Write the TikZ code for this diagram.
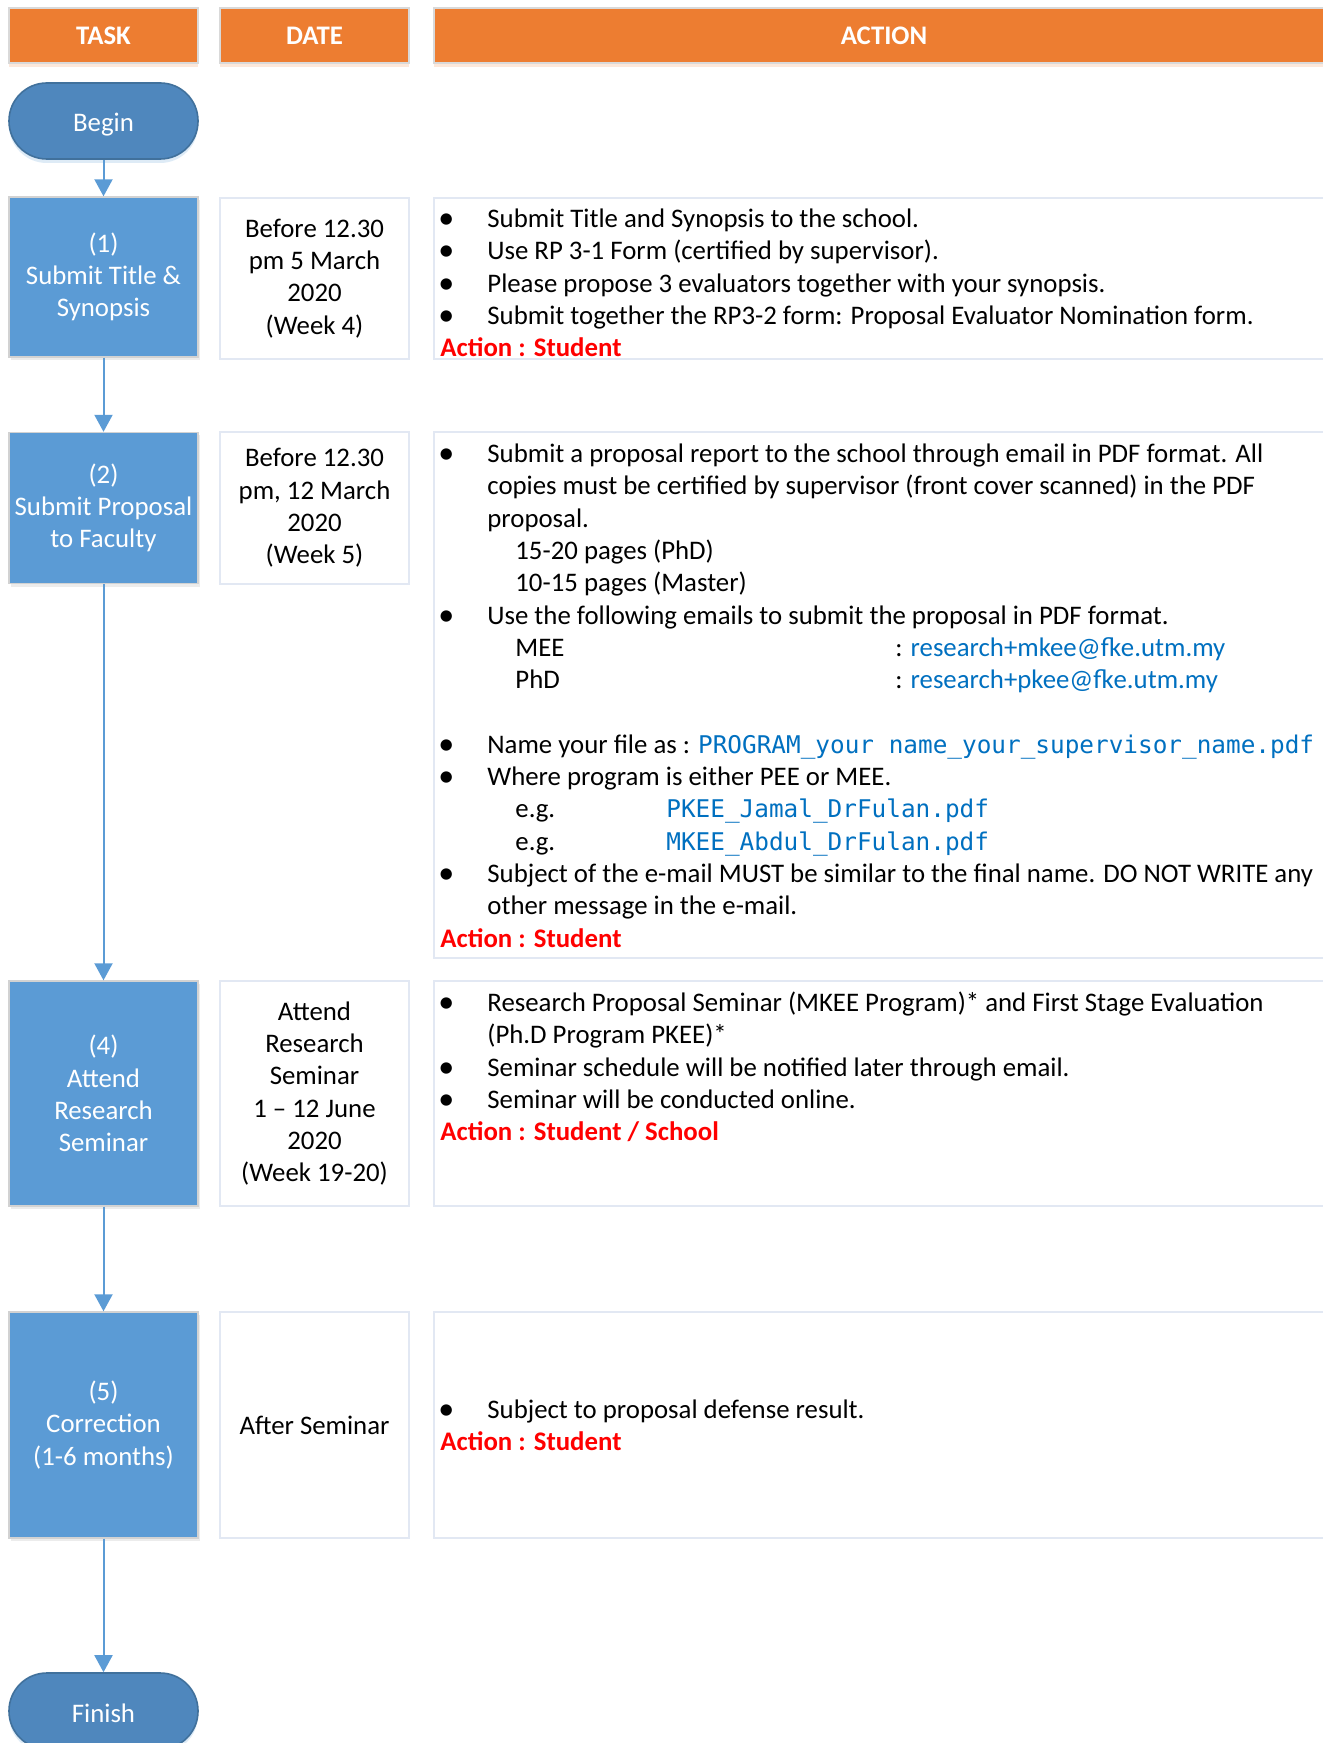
\documentclass[tikz,border=0pt]{standalone}
\usepackage{fontspec}
\setmainfont{Carlito}
\newfontfamily\codefont[Scale=0.909]{DejaVu Sans Mono}
\usepackage{xcolor}
\usepackage{tikz}
\usetikzlibrary{arrows.meta, positioning, shadows}

\definecolor{hdrorange}{HTML}{ED7D31}
\definecolor{taskblue}{HTML}{5B9BD5}
\definecolor{termblue}{HTML}{4F87BD}
\definecolor{termedge}{HTML}{41719C}
\definecolor{celledge}{HTML}{E2E8F3}
\definecolor{linkblue}{HTML}{0070C0}

\newcommand\bodysize{\fontsize{13.4pt}{16.15pt}\selectfont}
\newcommand\bul{\makebox[23.5pt][l]{\hspace*{-1pt}{\fontsize{16pt}{16pt}\selectfont\raisebox{-0.6pt}{\textbullet}}}}
\newcommand\ind{\hspace*{23.5pt}}
\newcommand\sub{\hspace*{37.5pt}}
\newcommand\who[1]{{\color{red}\bfseries #1}}
\newcommand\link[1]{{\color{linkblue}#1}}
\newcommand\fname[1]{{\color{linkblue}\codefont #1}}

\begin{document}
\begin{tikzpicture}[x=0.5pt, y=-0.5pt, >=Stealth,
  hdr/.style={rectangle, fill=hdrorange, draw=gray!30, line width=0.6pt,
    text=white, font=\bodysize\bfseries, minimum height=27.5pt,
    drop shadow={shadow xshift=0pt, shadow yshift=-2pt, fill=hdrorange!35, opacity=0.5}},
  term/.style={rectangle, rounded corners=18.9pt, fill=termblue, draw=termedge,
    line width=0.8pt, text=white, font=\bodysize, minimum width=94.5pt, minimum height=38pt,
    text height=11pt, text depth=0pt,
    drop shadow={shadow xshift=0pt, shadow yshift=-2pt, fill=taskblue!40, opacity=0.5}},
  task/.style={rectangle, fill=taskblue, draw=gray!35, line width=0.7pt,
    text=white, font=\bodysize, align=center, minimum width=94.5pt, inner sep=1pt,
    drop shadow={shadow xshift=0.8pt, shadow yshift=-1.5pt, fill=gray!30, opacity=0.5}},
  datecell/.style={rectangle, draw=celledge, line width=0.9pt, fill=white,
    font=\bodysize, align=center, minimum width=94.5pt, inner sep=1pt},
  actcell/.style={rectangle, draw=celledge, line width=0.9pt, fill=white,
    minimum width=450pt},
  acttext/.style={anchor=base west, inner sep=0pt, font=\bodysize},
  flow/.style={->, draw=taskblue, line width=1pt, >={Triangle[width=9pt, length=8.5pt]}}
]

% === Drawing region ===
\useasboundingbox (0,0) rectangle (1322,1743);

% === Header row ===
\node[hdr, minimum width=94.5pt] (hTask) at (103.5,35.5) {TASK};
\node[hdr, minimum width=94.5pt] (hDate) at (314.5,35.5) {DATE};
\node[hdr, minimum width=450pt] (hAction) at (884,35.5) {ACTION};

% === Task column ===
\node[term] (begin) at (103.5,121) {Begin};
\node[task, minimum height=80pt] (t1) at (103.5,277) {(1)\\Submit Title \&\\Synopsis};
\node[task, minimum height=75.5pt] (t2) at (103.5,508) {(2)\\Submit Proposal\\to Faculty};
\node[task, minimum height=112.5pt] (t4) at (103.5,1093.5) {(4)\\Attend\\Research\\Seminar};
\node[task, minimum height=113pt] (t5) at (103.5,1425) {(5)\\Correction\\(1-6 months)};
\node[term] (finish) at (103.5,1711) {Finish};

% Flow arrows
\draw[flow] (begin) -- (t1);
\draw[flow] (t1) -- (t2);
\draw[flow] (t2) -- (t4);
\draw[flow] (t4) -- (t5);
\draw[flow] (t5) -- (finish);

% === Date column ===
\node[datecell, minimum height=80.5pt] (d1) at (314.5,278.5) {Before 12.30\\pm 5 March\\2020\\(Week 4)};
\node[datecell, minimum height=76pt] (d2) at (314.5,508) {Before 12.30\\pm, 12 March\\2020\\(Week 5)};
\node[datecell, minimum height=112.5pt] (d4) at (314.5,1093.5) {Attend\\Research\\Seminar\\1 – 12 June\\2020\\(Week 19-20)};
\node[datecell, minimum height=113pt] (d5) at (314.5,1425) {After Seminar};

% === Action column ===
\node[actcell, minimum height=80.5pt] (a1) at (884,278.5) {};
\node[actcell, minimum height=263pt] (a2) at (884,695) {};
\node[actcell, minimum height=112.5pt] (a4) at (884,1093.5) {};
\node[actcell, minimum height=113pt] (a5) at (884,1425) {};

\node[acttext] (a1txt) at (440,227.5) {\parbox[t]{450pt}{\raggedright
  \bul Submit Title and Synopsis to the school.\\
  \bul Use RP 3-1 Form (certified by supervisor).\\
  \bul Please propose 3 evaluators together with your synopsis.\\
  \bul Submit together the RP3-2 form: Proposal Evaluator Nomination form.\\
  \who{Action : Student}}};

\node[acttext] (a2txt) at (440,462.5) {\parbox[t]{450pt}{\raggedright
  \bul Submit a proposal report to the school through email in PDF format. All\\
  \ind copies must be certified by supervisor (front cover scanned) in the PDF\\
  \ind proposal.\\
  \sub 15-20 pages (PhD)\\
  \sub 10-15 pages (Master)\\
  \bul Use the following emails to submit the proposal in PDF format.\\
  \sub\makebox[190pt][l]{MEE}: \link{research+mkee@fke.utm.my}\\
  \sub\makebox[190pt][l]{PhD}: \link{research+pkee@fke.utm.my}\\
  \mbox{}\\
  \bul Name your file as : \fname{PROGRAM\_your name\_your\_supervisor\_name.pdf}\\
  \bul Where program is either PEE or MEE.\\
  \sub\makebox[75.5pt][l]{e.g.}\fname{PKEE\_Jamal\_DrFulan.pdf}\\
  \sub\makebox[75.5pt][l]{e.g.}\fname{MKEE\_Abdul\_DrFulan.pdf}\\
  \bul Subject of the e-mail MUST be similar to the final name. DO NOT WRITE any\\
  \ind other message in the e-mail.\\
  \who{Action : Student}}};

\node[acttext] (a4txt) at (440,1011.5) {\parbox[t]{450pt}{\raggedright
  \bul Research Proposal Seminar (MKEE Program)* and First Stage Evaluation\\
  \ind (Ph.D Program PKEE)*\\
  \bul Seminar schedule will be notified later through email.\\
  \bul Seminar will be conducted online.\\
  \who{Action : Student / School}}};

\node[acttext] (a5txt) at (440,1418.5) {\parbox[t]{450pt}{\raggedright
  \bul Subject to proposal defense result.\\
  \who{Action : Student}}};

\end{tikzpicture}
\end{document}
